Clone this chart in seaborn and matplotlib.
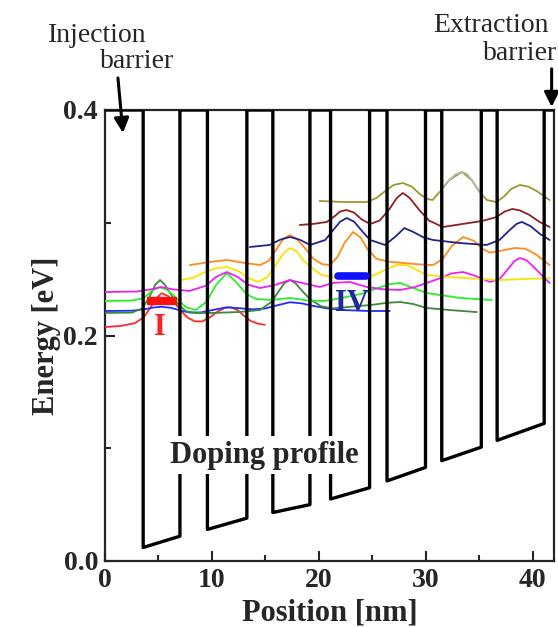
import numpy as np
import pandas as pd
import matplotlib
matplotlib.use("Agg")
import matplotlib.pyplot as plt
from matplotlib.ticker import MultipleLocator, FormatStrFormatter
import seaborn as sns

# ---------------- data ----------------
# conduction-band profile (wells between tall barriers)
well_left = [3.57, 9.58, 15.7, 21.1, 26.38, 31.5, 36.68]
well_right = [7.01, 13.27, 19.17, 24.75, 29.98, 35.2, 41.08]
bottom_left = [0.012, 0.028, 0.043, 0.055, 0.071, 0.089, 0.107]
bottom_right = [0.022, 0.038, 0.050, 0.065, 0.083, 0.101, 0.122]
barrier_top = 0.4
x_end = 42.0

# wavefunctions (position nm, energy eV)
red_x = [0, 1.5, 2.8, 3.6, 4.2, 4.8, 5.3, 5.9, 6.5, 7.1, 7.7, 8.4, 9.1, 9.8, 10.5, 11.2, 11.8, 12.4,
         13.0, 13.6, 14.3, 14.95]
red_y = [.2075, .2085, .2110, .2160, .2240, .2330, .2375, .2350, .2290, .2220, .2160, .2125, .2125, .2160,
         .2210, .2245, .2250, .2225, .2175, .2130, .2105, .2095]

blue_x = [0, 2.5, 3.6, 4.5, 5.3, 6.2, 7.1, 8.0, 9.0, 10.0, 11.4, 12.6, 13.8, 15.0, 16.2, 17.3, 18.4, 19.5,
          20.8, 22.5, 24.8, 26.64]
blue_y = [.2217, .2220, .2230, .2248, .2255, .2245, .2220, .2203, .2205, .2225, .2250, .2242, .2232, .2240,
          .2270, .2295, .2285, .2262, .2240, .2225, .2217, .2217]

dgreen_x = [0, 2.5, 3.5, 4.2, 4.7, 5.15, 5.6, 6.2, 6.9, 7.6, 8.5, 10.0, 12.5, 14.5, 15.6, 16.3, 16.8, 17.3,
            17.8, 18.4, 19.2, 20.2, 21.3, 23.0, 25.0, 26.4, 27.6, 28.8, 30.1, 32.2, 34.77]
dgreen_y = [.2200, .2203, .2240, .2350, .2450, .2492, .2450, .2360, .2270, .2215, .2200, .2200, .2208, .2226,
            .2300, .2400, .2465, .2492, .2465, .2400, .2320, .2260, .2240, .2255, .2272, .2290, .2297, .2280,
            .2244, .2226, .2208]

green_x = [0, 2.5, 3.6, 4.3, 5.1, 5.9, 6.8, 7.6, 8.5, 9.5, 10.4, 11.4, 12.3, 13.2, 14.1, 15.5, 17.3, 19.0,
           20.5, 22.0, 24.0, 25.5, 26.6, 27.6, 28.6, 30.1, 33.2, 36.17]
green_y = [.2306, .2310, .2330, .2390, .2430, .2400, .2320, .2250, .2226, .2300, .2450, .2554, .2470, .2370,
           .2325, .2315, .2333, .2310, .2306, .2330, .2370, .2420, .2455, .2466, .2430, .2377, .2333, .2315]

magenta_x = [0, 3.0, 4.3, 5.3, 6.3, 7.9, 9.4, 10.4, 11.4, 12.4, 13.4, 14.5, 15.9, 17.3, 18.7, 20.1, 21.3,
             22.9, 24.5, 26.0, 27.6, 29.0, 30.1, 31.4, 32.4, 33.5, 34.6, 36.0, 36.9, 37.7, 38.3, 38.8, 39.4,
             40.2, 41.0, 41.59]
magenta_y = [.2386, .2390, .2410, .2430, .2410, .2395, .2440, .2520, .2563, .2520, .2450, .2421, .2448, .2492,
             .2460, .2430, .2466, .2475, .2430, .2410, .2404, .2430, .2466, .2510, .2550, .2563, .2530, .2475,
             .2500, .2590, .2660, .2687, .2670, .2599, .2520, .2466]

yellow_x = [7.2, 8.3, 9.3, 10.3, 11.4, 12.5, 13.5, 14.3, 15.2, 16.0, 16.7, 17.3, 17.9, 18.6, 19.4, 20.2, 21.2,
            22.4, 24.5, 25.5, 26.4, 27.3, 28.3, 29.3, 30.1, 32.2, 34.5, 36.9, 39.0, 41.59]
yellow_y = [.2492, .2515, .2560, .2595, .2608, .2570, .2505, .2475, .2520, .2630, .2730, .2776, .2750, .2660,
            .2598, .2540, .2515, .2510, .2510, .2550, .2590, .2625, .2625, .2575, .2537, .2519, .2505, .2492,
            .2500, .2510]

orange_x = [7.94, 9.8, 11.4, 13.1, 14.5, 15.3, 16.0, 16.7, 17.3, 17.9, 18.7, 19.5, 20.3, 21.0, 21.7, 22.4,
            23.2, 23.9, 24.6, 25.4, 26.5, 27.9, 29.5, 30.7, 31.6, 32.4, 33.5, 34.5, 35.3, 36.0, 36.9, 38.3,
            39.3, 40.3, 41.59]
orange_y = [.2625, .2652, .2670, .2643, .2625, .2660, .2760, .2860, .2891, .2860, .2776, .2680, .2633, .2625,
            .2690, .2820, .2918, .2870, .2760, .2680, .2655, .2643, .2630, .2625, .2680, .2790, .2874, .2840,
            .2770, .2735, .2749, .2776, .2770, .2720, .2625]

navy_x = [13.55, 15.4, 16.4, 17.3, 18.2, 19.2, 20.6, 21.3, 22.0, 22.6, 23.3, 24.1, 24.8, 26.2, 27.2, 28.0,
          28.8, 29.8, 30.7, 33.2, 35.7, 36.9, 37.8, 38.5, 39.0, 39.8, 40.7, 41.59]
navy_y = [.2785, .2803, .2850, .2874, .2850, .2803, .2847, .2930, .3010, .3042, .3010, .2920, .2847, .2803,
          .2880, .2953, .2920, .2870, .2847, .2820, .2803, .2847, .2930, .2990, .3007, .2970, .2900, .2847]

maroon_x = [18.22, 19.5, 20.75, 21.5, 22.0, 22.6, 23.3, 24.0, 24.8, 25.7, 26.6, 27.3, 27.85, 28.5, 29.4,
            30.3, 31.6, 33.5, 35.3, 36.6, 37.4, 38.1, 38.8, 39.7, 40.6, 41.59]
maroon_y = [.2980, .2990, .3007, .3060, .3100, .3113, .3090, .3030, .2989, .3020, .3120, .3220, .3264, .3220,
            .3113, .3020, .2962, .2990, .3016, .3050, .3100, .3122, .3110, .3069, .3010, .2962]

olive_x = [20.09, 22.4, 24.5, 25.4, 26.2, 27.0, 27.85, 28.7, 29.5, 30.2, 30.65, 31.3, 32.2, 33.4, 34.3,
           35.05, 35.7, 36.6, 37.3, 38.0, 38.8, 39.6, 40.4, 41.59]
olive_y = [.3193, .3184, .3184, .3220, .3280, .3335, .3353, .3320, .3250, .3210, .3202, .3273, .3379, .3450,
           .3379, .3273, .3202, .3184, .3230, .3300, .3335, .3320, .3280, .3202]

gray_x = [31.3, 31.8, 32.2, 32.8, 33.4, 33.9, 34.3, 34.7, 35.05]
gray_y = [.3273, .3330, .3379, .3430, .3450, .3430, .3379, .3320, .3273]

# state markers
bar_I_x = [3.93, 6.73]
bar_I_y = [0.2310, 0.2310]
bar_IV_x = [21.75, 24.45]
bar_IV_y = [0.2532, 0.2532]

# ---------------- style ----------------
sns.set_style("ticks")
plt.rcParams["font.family"] = ["Liberation Serif", "DejaVu Serif"]

W, H = 558, 627
fig = plt.figure(figsize=(W / 100, H / 100), dpi=100)
ax = fig.add_axes([105 / W, 1 - 561 / H, (554 - 105) / W, (561 - 110) / H])

# band profile built from the well arrays
px, py = [0.0, well_left[0]], [barrier_top, barrier_top]
for i in range(len(well_left)):
    px += [well_left[i], well_right[i], well_right[i]]
    py += [bottom_left[i], bottom_right[i], barrier_top]
    nxt = well_left[i + 1] if i + 1 < len(well_left) else x_end
    px.append(nxt)
    py.append(barrier_top)
prof = pd.DataFrame({"x": px, "y": py})
sns.lineplot(data=prof, x="x", y="y", sort=False, estimator=None, color="black",
             lw=2.4, ax=ax, zorder=4)

curves = [
    (red_x, red_y, "#ff2a2a"),
    (blue_x, blue_y, "#1f2bff"),
    (dgreen_x, dgreen_y, "#3d8a3d"),
    (green_x, green_y, "#2af02a"),
    (magenta_x, magenta_y, "#f020f0"),
    (yellow_x, yellow_y, "#f5e600"),
    (orange_x, orange_y, "#ff8c1a"),
    (navy_x, navy_y, "#23238f"),
    (maroon_x, maroon_y, "#8e1f24"),
    (olive_x, olive_y, "#9a9a2e"),
    (gray_x, gray_y, "#b5b5b5"),
]
for xs, ys, c in curves:
    sns.lineplot(x=xs, y=ys, sort=False, estimator=None, color=c, lw=1.3, ax=ax, zorder=3)

sns.lineplot(x=bar_I_x, y=bar_I_y, sort=False, estimator=None, color="#ff1010", lw=6,
             ax=ax, zorder=5, solid_capstyle="butt")
sns.lineplot(x=bar_IV_x, y=bar_IV_y, sort=False, estimator=None, color="#1010ff", lw=5.5,
             ax=ax, zorder=5, solid_capstyle="round")

ax.text(5.14, 0.2067, "I", color="#ff2020", fontsize=22, fontweight="bold",
        ha="center", va="center", zorder=6)
ax.text(23.08, 0.2288, "IV", color="#1f2a9a", fontsize=22, fontweight="bold",
        ha="center", va="center", zorder=6)

ax.text(14.86, 0.094, "Doping profile", fontsize=22, fontweight="bold", ha="center",
        va="center", zorder=7,
        bbox=dict(facecolor="white", edgecolor="none", pad=3))

# barrier annotations
ax.annotate("", xy=(1.68, 0.3796), xytext=(1.21, 0.4284), annotation_clip=False,
            arrowprops=dict(arrowstyle="-|>", color="black", lw=2.2, mutation_scale=22,
                            shrinkA=0, shrinkB=0))
ax.annotate("", xy=(41.78, 0.4027), xytext=(41.78, 0.4365), annotation_clip=False,
            arrowprops=dict(arrowstyle="-|>", color="black", lw=2.2, mutation_scale=22,
                            shrinkA=0, shrinkB=0))
fig.text(48 / W, 1 - 42 / H, "Injection", fontsize=20, ha="left", va="baseline")
fig.text(100 / W, 1 - 68 / H, "barrier", fontsize=20, ha="left", va="baseline")
fig.text(433 / W, 1 - 32 / H, "Extraction", fontsize=20, ha="left", va="baseline")
fig.text(483 / W, 1 - 60 / H, "barrier", fontsize=20, ha="left", va="baseline")

# axes
ax.set_xlim(0, x_end)
ax.set_ylim(0, 0.4)
ax.xaxis.set_major_locator(MultipleLocator(10))
ax.xaxis.set_minor_locator(MultipleLocator(5))
ax.yaxis.set_major_locator(MultipleLocator(0.2))
ax.yaxis.set_minor_locator(MultipleLocator(0.1))
ax.yaxis.set_major_formatter(FormatStrFormatter("%.1f"))
ax.tick_params(which="both", direction="in", width=1.5, labelsize=20, pad=5)
ax.tick_params(which="major", length=7)
ax.tick_params(which="minor", length=4)
for lab in ax.get_xticklabels() + ax.get_yticklabels():
    lab.set_fontweight("bold")
for s in ax.spines.values():
    s.set_linewidth(1.6)
    s.set_visible(True)
ax.set_xlabel("Position [nm]", fontsize=22, fontweight="bold", labelpad=4)
ax.set_ylabel("Energy [eV]", fontsize=22, fontweight="bold", labelpad=2)

fig.savefig("out.png", dpi=100)
